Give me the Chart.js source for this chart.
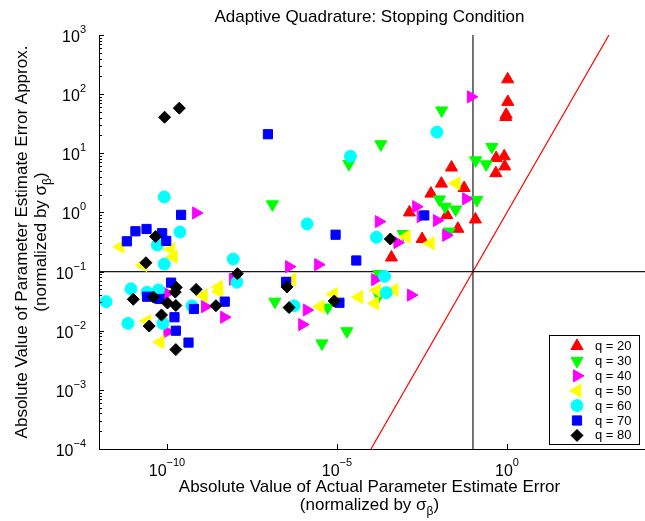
<!DOCTYPE html>
<html>
<head>
<meta charset="utf-8">
<script src="https://cdn.jsdelivr.net/npm/chart.js"></script>
<style>
  html, body { margin: 0; padding: 0; background: #fff; }
</style>
</head>
<body>
<canvas id="chart" width="645" height="521"></canvas>
<script>
// 各系列のデータ
const q20X = [1.35e-3, 3.2e-3, 4.0e-4, 5.8e-3, 1.18e-2, 2.34e-2, 5.5e-2, 1.7e-2, 3.6e-2, 0.118, 0.48, 0.83, 0.86, 0.47, 1.05, 1.06, 0.95, 0.92];
const q20Y = [1.0, 0.355, 0.173, 2.08, 3.07, 5.75, 2.59, 0.90, 0.53, 0.76, 8.3, 8.9, 6.0, 4.6, 178, 74, 45, 41];

const q30X = [1.26e-7, 1.49e-7, 3.6e-6, 1.95e-5, 5.3e-6, 2.24e-5, 1.95e-4, 1.7e-4, 1.7e-4, 8.9e-4, 1.2e-2, 1.03e-2, 1.52e-2, 3.1e-2, 2.0e-2, 0.13, 0.12, 0.245, 0.36];
const q30Y = [1.37, 0.031, 6.1e-3, 9.8e-3, 0.0247, 6.6, 14.2, 0.091, 0.039, 0.43, 53, 1.66, 1.25, 1.12, 0.475, 1.62, 7.6, 6.5, 12.8];

const q40X = [7.2e-10, 8.7e-9, 1.0e-10, 1.32e-9, 4.8e-9, 1.03e-10, 3.9e-7, 2.8e-6, 1.29e-6, 9.5e-7, 1.33e-4, 1.5e-3, 1.7e-4, 6.0e-4, 2.14e-3, 2.9e-3, 8.7e-3, 1.63e-2, 6.3e-2, 8.7e-2];
const q40Y = [0.98, 0.074, 0.043, 0.0255, 0.0169, 9.6e-3, 0.121, 0.131, 0.0224, 0.0127, 0.073, 0.040, 0.70, 0.31, 1.25, 0.85, 0.73, 0.41, 1.70, 90];

const q50X = [4.2e-12, 1.29e-10, 1.55e-10, 1.95e-11, 3.3e-9, 3.4e-9, 1.18e-9, 2.6e-11, 6.3e-11, 4.7e-7, 3.2e-6, 7.9e-6, 4.4e-5, 1.48e-4, 1.29e-4, 4.8e-4, 1.1e-3, 5.6e-3, 3.2e-2];
const q50Y = [0.263, 0.24, 0.178, 0.129, 0.055, 0.046, 0.039, 0.0146, 6.4e-3, 0.073, 0.0255, 0.0414, 0.037, 0.048, 0.029, 0.049, 0.39, 0.30, 3.1];

const q60X = [8.3e-11, 2.4e-10, 5.2e-11, 8.3e-11, 8.9e-9, 1.14e-8, 8.7e-12, 2.6e-11, 5.6e-11, 1.62e-12, 5.4e-10, 7.1e-12, 7.6e-11, 5.5e-7, 1.32e-6, 2.5e-5, 1.45e-4, 2.5e-4, 2.8e-4, 8.7e-3];
const q60Y = [1.82, 0.467, 0.281, 0.134, 0.163, 0.066, 0.051, 0.0447, 0.049, 0.031, 0.0262, 0.0133, 0.0133, 0.0264, 0.64, 8.9, 0.38, 0.083, 0.044, 22.8];

const q70X = [2.6e-10, 1.18e-11, 2.5e-11, 7.2e-11, 9.5e-11, 6.6e-12, 1.32e-10, 2.6e-11, 6.0e-11, 6.2e-10, 5.0e-9, 1.66e-10, 1.82e-10, 4.3e-10, 9.3e-8, 3.2e-7, 1.18e-5, 9.1e-6, 3.7e-5, 3.7e-3];
const q70Y = [0.91, 0.48, 0.525, 0.445, 0.33, 0.325, 0.065, 0.0376, 0.0344, 0.0233, 0.031, 0.0169, 0.010, 6.3e-3, 21, 0.067, 0.0297, 0.42, 0.154, 0.89];

const q80X = [8.5e-11, 2.3e-10, 4.6e-11, 2.4e-11, 1.18e-8, 1.87e-10, 1.75e-10, 7.2e-10, 1.02e-11, 4.0e-11, 1.03e-10, 1.82e-10, 2.75e-9, 6.9e-11, 3.0e-11, 1.82e-10, 3.4e-7, 3.9e-7, 8.3e-6, 3.7e-4];
const q80Y = [40.7, 58, 0.39, 0.141, 0.092, 0.054, 0.045, 0.050, 0.034, 0.037, 0.0294, 0.0267, 0.0265, 0.0184, 0.012, 4.8e-3, 0.055, 0.0246, 0.0318, 0.355];

const seriesLabels = ['q = 20', 'q = 30', 'q = 40', 'q = 50', 'q = 60', 'q = 70', 'q = 80'];
const seriesX = [q20X, q30X, q40X, q50X, q60X, q70X, q80X];
const seriesY = [q20Y, q30Y, q40Y, q50Y, q60Y, q70Y, q80Y];

// 停止条件のしきい値と対角線 (y = x)
const threshold = 0.1;
const diagX = [1e-4, 1e3];
const xRange = [1e-12, 1.15e4];
const yRange = [1e-4, 1e3];
const xTickExps = [-10, -5, 0];
const yTickExps = [3, 2, 1, 0, -1, -2, -3, -4];

// マーカーの見た目
const markerColors = ['#ff0000', '#00ff00', '#ff00ff', '#ffff00', '#00ffff', '#0000ff', '#000000'];
const markerShapes = ['triangle', 'triangle', 'triangle', 'triangle', 'circle', 'rect', 'rectRot'];
const markerRotation = [0, 180, 90, 270, 0, 0, 0];
const markerRadius = [7, 7, 7, 7.5, 6, 6.5, 6];

const FONT = '"Liberation Sans", Arial, Helvetica, sans-serif';

const datasets = seriesLabels.map((label, i) => ({
    label: label,
    data: seriesX[i].map((x, k) => ({ x: x, y: seriesY[i][k] })),
    pointStyle: markerShapes[i],
    rotation: markerRotation[i],
    radius: markerRadius[i],
    backgroundColor: markerColors[i],
    borderColor: markerColors[i],
    borderWidth: 1,
    order: 10 - i // q = 80 を一番上に
}));

// 参照線
datasets.push({
    label: 'vline', showLine: true, pointRadius: 0, borderColor: '#1a1a1a', borderWidth: 1.2, order: 50,
    data: [{ x: threshold, y: yRange[0] }, { x: threshold, y: yRange[1] }]
});
datasets.push({
    label: 'hline', showLine: true, pointRadius: 0, borderColor: '#1a1a1a', borderWidth: 1.2, order: 51,
    data: [{ x: xRange[0], y: threshold }, { x: xRange[1], y: threshold }]
});
datasets.push({
    label: 'diag', showLine: true, pointRadius: 0, borderColor: '#ff0000', borderWidth: 1.2, order: 52,
    data: diagX.map(v => ({ x: v, y: v }))
});

// 上付き・下付き文字つきテキスト
function richWidth(ctx, parts) {
    let w = 0;
    parts.forEach(p => { ctx.font = p.size + 'px ' + FONT; w += ctx.measureText(p.t).width; });
    return w;
}
function drawRich(ctx, parts, x, y, align) {
    const w = richWidth(ctx, parts);
    let cx = align === 'center' ? x - w / 2 : (align === 'right' ? x - w : x);
    ctx.textAlign = 'left';
    ctx.textBaseline = 'alphabetic';
    parts.forEach(p => {
        ctx.font = p.size + 'px ' + FONT;
        ctx.fillText(p.t, cx, y + (p.dy || 0));
        cx += ctx.measureText(p.t).width;
    });
}
function expText(e) {
    return e < 0 ? '\u2212' + Math.abs(e) : String(e);
}

const matlabAxes = {
    id: 'matlabAxes',
    afterDraw(chart) {
        const { ctx, chartArea: a, scales: { x, y } } = chart;
        ctx.save();
        ctx.fillStyle = '#000';
        ctx.strokeStyle = '#000';
        ctx.lineWidth = 1;

        // 軸線
        ctx.beginPath();
        ctx.moveTo(Math.round(a.left) + 0.5, a.top);
        ctx.lineTo(Math.round(a.left) + 0.5, Math.round(a.bottom) + 0.5);
        ctx.lineTo(a.right, Math.round(a.bottom) + 0.5);
        ctx.stroke();

        // y 目盛り (内向き)
        ctx.beginPath();
        yTickExps.forEach(e => {
            const py = Math.round(y.getPixelForValue(Math.pow(10, e))) + 0.5;
            ctx.moveTo(a.left, py); ctx.lineTo(a.left + 5, py);
            if (e < 3) {
                for (let m = 2; m <= 9; m++) {
                    const pm = Math.round(y.getPixelForValue(m * Math.pow(10, e))) + 0.5;
                    ctx.moveTo(a.left, pm); ctx.lineTo(a.left + 3, pm);
                }
            }
        });
        // x 目盛り
        xTickExps.forEach(e => {
            const px = Math.round(x.getPixelForValue(Math.pow(10, e))) + 0.5;
            ctx.moveTo(px, a.bottom); ctx.lineTo(px, a.bottom - 5);
        });
        ctx.stroke();

        // 目盛りラベル
        yTickExps.forEach(e => {
            const py = y.getPixelForValue(Math.pow(10, e));
            drawRich(ctx, [{ t: '10', size: 16 }, { t: expText(e), size: 11, dy: -9 }], 86, py + 7, 'right');
        });
        xTickExps.forEach(e => {
            const px = x.getPixelForValue(Math.pow(10, e));
            drawRich(ctx, [{ t: '10', size: 16 }, { t: expText(e), size: 11, dy: -10 }], px, 476, 'center');
        });

        // タイトル
        const cx = (a.left + 640) / 2;
        ctx.font = '17px ' + FONT;
        ctx.textAlign = 'center';
        ctx.textBaseline = 'alphabetic';
        ctx.fillText('Adaptive Quadrature: Stopping Condition', cx, 22);

        // x 軸ラベル
        ctx.fillText('Absolute Value of Actual Parameter Estimate Error', cx, 492);
        drawRich(ctx, [{ t: '(normalized by \u03c3', size: 17 }, { t: '\u03b2', size: 12, dy: 5 }, { t: ')', size: 17 }], cx, 510, 'center');

        // y 軸ラベル (回転)
        const cy = (a.top + a.bottom) / 2;
        ctx.save();
        ctx.translate(27, cy);
        ctx.rotate(-Math.PI / 2);
        ctx.font = '17px ' + FONT;
        ctx.textAlign = 'center';
        ctx.fillText('Absolute Value of Parameter Estimate Error Approx.', 0, 0);
        ctx.restore();
        ctx.save();
        ctx.translate(46, cy);
        ctx.rotate(-Math.PI / 2);
        drawRich(ctx, [{ t: '(normalized by \u03c3', size: 17 }, { t: '\u03b2', size: 12, dy: 5 }, { t: ')', size: 17 }], 0, 0, 'center');
        ctx.restore();

        // 凡例
        const lx = 549.5, ly = 335.5, lw = 90, lh = 109;
        ctx.fillStyle = '#fff';
        ctx.fillRect(lx, ly, lw, lh);
        ctx.strokeStyle = '#000';
        ctx.strokeRect(lx, ly, lw, lh);
        seriesLabels.forEach((label, i) => {
            const ry = 346 + i * 14.9;
            ctx.fillStyle = markerColors[i];
            ctx.strokeStyle = markerColors[i];
            Chart.helpers.drawPoint(ctx, {
                pointStyle: markerShapes[i], rotation: markerRotation[i],
                radius: markerRadius[i], borderWidth: 1
            }, 577, ry);
            ctx.fillStyle = '#000';
            ctx.font = '13px ' + FONT;
            ctx.textAlign = 'left';
            ctx.textBaseline = 'middle';
            ctx.fillText(label, 595, ry + 0.5);
        });
        ctx.restore();
    }
};

new Chart(document.getElementById('chart').getContext('2d'), {
    type: 'scatter',
    data: { datasets: datasets },
    options: {
        responsive: false,
        animation: false,
        events: [],
        layout: { autoPadding: false, padding: { left: 99, top: 35, right: 0, bottom: 72 } },
        plugins: { legend: { display: false }, tooltip: { enabled: false }, title: { display: false } },
        scales: {
            x: {
                type: 'logarithmic', min: xRange[0], max: xRange[1],
                ticks: { display: false },
                grid: { display: false, drawTicks: false, tickLength: 0 },
                border: { display: false }
            },
            y: {
                type: 'logarithmic', min: yRange[0], max: yRange[1],
                ticks: { display: false },
                grid: { display: false, drawTicks: false, tickLength: 0 },
                border: { display: false }
            }
        }
    },
    plugins: [matlabAxes]
});
</script>
</body>
</html>
